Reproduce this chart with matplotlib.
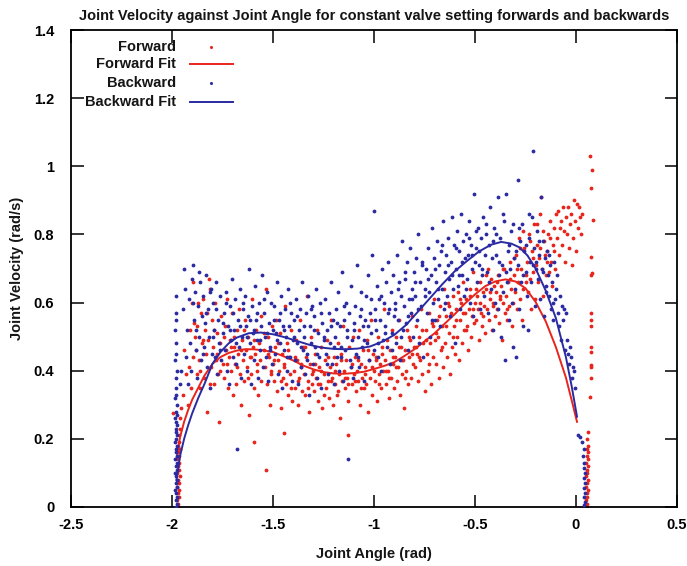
import numpy as np
import matplotlib
matplotlib.use("Agg")
import matplotlib.pyplot as plt

plt.rcParams['font.family'] = ['Liberation Sans', 'DejaVu Sans']

# ---------------- data ----------------
title = "Joint Velocity against Joint Angle for constant valve setting forwards and backwards"
x_label = "Joint Angle (rad)"
y_label = "Joint Velocity (rad/s)"
x_ticks = [-2.5, -2, -1.5, -1, -0.5, 0, 0.5]
x_tick_labels = ["-2.5", "-2", "-1.5", "-1", "-0.5", "0", "0.5"]
y_ticks = [0, 0.2, 0.4, 0.6, 0.8, 1, 1.2, 1.4]
y_tick_labels = ["0", "0.2", "0.4", "0.6", "0.8", "1", "1.2", "1.4"]

# Forward points: left column near the -2 rad stop
fwd_left_column = [(-1.972, 0.00), (-1.968, 0.01), (-1.975, 0.02), (-1.966, 0.03), (-1.971, 0.04),
                   (-1.964, 0.05), (-1.973, 0.06), (-1.967, 0.07), (-1.970, 0.08), (-1.962, 0.09),
                   (-1.974, 0.10), (-1.966, 0.11), (-1.969, 0.12), (-1.963, 0.13), (-1.972, 0.14),
                   (-1.965, 0.15), (-1.968, 0.16), (-1.961, 0.17), (-1.970, 0.18), (-1.964, 0.19),
                   (-1.967, 0.21), (-1.958, 0.23), (-1.962, 0.26), (-1.997, 0.275), (-1.955, 0.29)]
# Forward points: main cloud
fwd_cloud = [
    (-1.94, 0.46), (-1.93, 0.39), (-1.92, 0.30), (-1.915, 0.41), (-1.91, 0.52), (-1.905, 0.35), (-1.90, 0.60), (-1.945, 0.33),
    (-1.89, 0.54), (-1.885, 0.50), (-1.88, 0.46), (-1.875, 0.39), (-1.87, 0.60), (-1.865, 0.43), (-1.86, 0.35), (-1.855, 0.57), (-1.85, 0.48), (-1.895, 0.66),
    (-1.845, 0.61), (-1.84, 0.38), (-1.835, 0.52), (-1.83, 0.45), (-1.825, 0.28), (-1.82, 0.49), (-1.815, 0.67), (-1.81, 0.64), (-1.805, 0.41), (-1.80, 0.55),
    (-1.795, 0.47), (-1.79, 0.36), (-1.785, 0.60), (-1.78, 0.43), (-1.775, 0.51), (-1.77, 0.39), (-1.765, 0.25), (-1.76, 0.48), (-1.755, 0.56), (-1.75, 0.42),
    (-1.745, 0.38), (-1.74, 0.53), (-1.735, 0.46), (-1.73, 0.61), (-1.725, 0.35), (-1.72, 0.44), (-1.715, 0.49), (-1.71, 0.40), (-1.705, 0.57), (-1.70, 0.33),
    (-1.695, 0.47), (-1.69, 0.42), (-1.685, 0.36), (-1.68, 0.52), (-1.675, 0.45), (-1.67, 0.58), (-1.665, 0.39), (-1.66, 0.30), (-1.655, 0.49), (-1.65, 0.43),
    (-1.645, 0.37), (-1.64, 0.55), (-1.635, 0.46), (-1.63, 0.41), (-1.625, 0.50), (-1.62, 0.27), (-1.615, 0.44), (-1.61, 0.39), (-1.605, 0.61), (-1.60, 0.47),
    (-1.595, 0.35), (-1.59, 0.45), (-1.585, 0.52), (-1.58, 0.40), (-1.575, 0.33), (-1.57, 0.48), (-1.565, 0.43), (-1.56, 0.56), (-1.535, 0.11), (-1.596, 0.19),
    (-1.545, 0.46), (-1.54, 0.41), (-1.535, 0.64), (-1.53, 0.36), (-1.525, 0.50), (-1.52, 0.44), (-1.515, 0.30), (-1.51, 0.39), (-1.505, 0.53), (-1.50, 0.42),
    (-1.495, 0.37), (-1.49, 0.47), (-1.485, 0.55), (-1.48, 0.34), (-1.475, 0.43), (-1.47, 0.40), (-1.465, 0.51), (-1.46, 0.29), (-1.455, 0.45), (-1.45, 0.38),
    (-1.445, 0.42), (-1.44, 0.59), (-1.435, 0.36), (-1.43, 0.48), (-1.425, 0.33), (-1.42, 0.44), (-1.415, 0.39), (-1.41, 0.52), (-1.405, 0.31), (-1.444, 0.216),
    (-1.395, 0.40), (-1.39, 0.35), (-1.385, 0.49), (-1.38, 0.43), (-1.375, 0.30), (-1.37, 0.38), (-1.365, 0.55), (-1.36, 0.41), (-1.355, 0.34), (-1.35, 0.47),
    (-1.345, 0.39), (-1.34, 0.33), (-1.335, 0.44), (-1.33, 0.62), (-1.325, 0.37), (-1.32, 0.28), (-1.315, 0.42), (-1.31, 0.50), (-1.305, 0.36), (-1.30, 0.40),
    (-1.295, 0.34), (-1.29, 0.45), (-1.285, 0.38), (-1.28, 0.52), (-1.275, 0.31), (-1.27, 0.41), (-1.265, 0.36), (-1.26, 0.47), (-1.255, 0.29), (-1.25, 0.39),
    (-1.245, 0.43), (-1.24, 0.35), (-1.235, 0.49), (-1.23, 0.37), (-1.225, 0.32), (-1.22, 0.41), (-1.215, 0.55), (-1.21, 0.38), (-1.205, 0.30), (-1.20, 0.44),
    (-1.195, 0.36), (-1.19, 0.42), (-1.185, 0.33), (-1.18, 0.48), (-1.175, 0.39), (-1.17, 0.26), (-1.165, 0.45), (-1.16, 0.37), (-1.155, 0.53), (-1.15, 0.40),
    (-1.145, 0.35), (-1.14, 0.43), (-1.135, 0.38), (-1.13, 0.31), (-1.125, 0.47), (-1.13, 0.21), (-1.115, 0.41), (-1.11, 0.36), (-1.105, 0.50), (-1.10, 0.39),
    (-1.095, 0.44), (-1.09, 0.34), (-1.085, 0.40), (-1.08, 0.37), (-1.075, 0.52), (-1.07, 0.30), (-1.065, 0.42), (-1.06, 0.38), (-1.055, 0.46), (-1.05, 0.35),
    (-1.045, 0.41), (-1.04, 0.36), (-1.035, 0.49), (-1.03, 0.28), (-1.025, 0.43), (-1.02, 0.38), (-1.015, 0.55), (-1.01, 0.33), (-1.005, 0.45), (-1.00, 0.40),
    (-0.995, 0.37), (-0.99, 0.44), (-0.985, 0.31), (-0.98, 0.50), (-0.975, 0.39), (-0.97, 0.42), (-0.965, 0.35), (-0.96, 0.47), (-0.955, 0.40), (-0.95, 0.58),
    (-0.945, 0.43), (-0.94, 0.36), (-0.935, 0.49), (-0.93, 0.40), (-0.925, 0.32), (-0.92, 0.46), (-0.915, 0.38), (-0.91, 0.52), (-0.905, 0.42), (-0.90, 0.35),
    (-0.895, 0.44), (-0.89, 0.50), (-0.885, 0.37), (-0.88, 0.41), (-0.875, 0.55), (-0.87, 0.33), (-0.865, 0.47), (-0.86, 0.39), (-0.855, 0.43), (-0.85, 0.29),
    (-0.845, 0.46), (-0.84, 0.40), (-0.835, 0.52), (-0.83, 0.36), (-0.825, 0.44), (-0.82, 0.49), (-0.815, 0.38), (-0.81, 0.56), (-0.805, 0.42), (-0.80, 0.47),
    (-0.795, 0.41), (-0.79, 0.53), (-0.785, 0.45), (-0.78, 0.37), (-0.775, 0.50), (-0.77, 0.43), (-0.765, 0.58), (-0.76, 0.39), (-0.755, 0.48), (-0.75, 0.34),
    (-0.745, 0.52), (-0.74, 0.45), (-0.735, 0.40), (-0.73, 0.57), (-0.725, 0.48), (-0.72, 0.36), (-0.715, 0.54), (-0.71, 0.44), (-0.705, 0.61), (-0.70, 0.49),
    (-0.695, 0.42), (-0.69, 0.55), (-0.685, 0.50), (-0.68, 0.38), (-0.675, 0.59), (-0.67, 0.46), (-0.665, 0.53), (-0.66, 0.41), (-0.655, 0.64), (-0.65, 0.48),
    (-0.645, 0.56), (-0.64, 0.44), (-0.635, 0.60), (-0.63, 0.51), (-0.625, 0.39), (-0.62, 0.57), (-0.615, 0.47), (-0.61, 0.62), (-0.605, 0.53), (-0.60, 0.45),
    (-0.595, 0.58), (-0.59, 0.50), (-0.585, 0.63), (-0.58, 0.43), (-0.575, 0.55), (-0.57, 0.60), (-0.565, 0.48), (-0.56, 0.66), (-0.555, 0.52), (-0.55, 0.57),
    (-0.545, 0.61), (-0.54, 0.53), (-0.535, 0.46), (-0.53, 0.58), (-0.525, 0.64), (-0.52, 0.50), (-0.515, 0.56), (-0.51, 0.69), (-0.505, 0.54), (-0.50, 0.60),
    (-0.495, 0.55), (-0.49, 0.62), (-0.485, 0.58), (-0.48, 0.49), (-0.475, 0.66), (-0.47, 0.57), (-0.465, 0.53), (-0.46, 0.63), (-0.455, 0.59), (-0.45, 0.51),
    (-0.445, 0.64), (-0.44, 0.58), (-0.435, 0.70), (-0.43, 0.55), (-0.425, 0.61), (-0.42, 0.67), (-0.415, 0.52), (-0.41, 0.60), (-0.405, 0.65), (-0.40, 0.56),
    (-0.395, 0.63), (-0.39, 0.58), (-0.385, 0.68), (-0.38, 0.54), (-0.375, 0.61), (-0.37, 0.65), (-0.365, 0.49), (-0.36, 0.60), (-0.355, 0.70), (-0.35, 0.57),
    (-0.345, 0.62), (-0.34, 0.55), (-0.335, 0.66), (-0.33, 0.59), (-0.325, 0.72), (-0.32, 0.64), (-0.315, 0.53), (-0.31, 0.60), (-0.305, 0.68), (-0.30, 0.63),
    (-0.295, 0.74), (-0.29, 0.58), (-0.285, 0.66), (-0.28, 0.79), (-0.275, 0.61), (-0.27, 0.70), (-0.265, 0.55), (-0.26, 0.64), (-0.255, 0.76), (-0.25, 0.68),
    (-0.245, 0.72), (-0.24, 0.63), (-0.235, 0.80), (-0.23, 0.67), (-0.225, 0.58), (-0.22, 0.75), (-0.215, 0.69), (-0.21, 0.83), (-0.205, 0.61), (-0.20, 0.71),
    (-0.195, 0.77), (-0.19, 0.66), (-0.185, 0.73), (-0.18, 0.86), (-0.175, 0.91), (-0.17, 0.70), (-0.165, 0.62), (-0.16, 0.78), (-0.155, 0.74), (-0.15, 0.68),
    (-0.145, 0.75), (-0.14, 0.80), (-0.135, 0.69), (-0.13, 0.84), (-0.125, 0.72), (-0.12, 0.65), (-0.115, 0.77), (-0.11, 0.82), (-0.105, 0.70), (-0.10, 0.86),
    (-0.095, 0.79), (-0.09, 0.87), (-0.085, 0.74), (-0.08, 0.82), (-0.075, 0.84), (-0.07, 0.77), (-0.065, 0.88), (-0.06, 0.81), (-0.055, 0.72), (-0.05, 0.85),
    (-0.045, 0.80), (-0.04, 0.88), (-0.035, 0.76), (-0.03, 0.83), (-0.025, 0.86), (-0.02, 0.71), (-0.015, 0.79), (-0.01, 0.90), (-0.005, 0.84), (0.00, 0.75),
    (0.005, 0.89), (0.01, 0.82), (0.015, 0.88), (0.02, 0.85), (0.025, 0.80), (0.03, 0.86),
]
# Forward points: second pass through the dense band
fwd_band = [
    (-1.895, 0.44), (-1.878, 0.53), (-1.862, 0.40), (-1.846, 0.49), (-1.828, 0.57), (-1.812, 0.36),
    (-1.792, 0.52), (-1.778, 0.45), (-1.761, 0.40), (-1.744, 0.50), (-1.727, 0.42), (-1.708, 0.47),
    (-1.692, 0.50), (-1.676, 0.41), (-1.659, 0.46), (-1.642, 0.52), (-1.626, 0.38), (-1.607, 0.44),
    (-1.592, 0.49), (-1.577, 0.42), (-1.561, 0.37), (-1.543, 0.51), (-1.527, 0.45), (-1.508, 0.40),
    (-1.493, 0.43), (-1.477, 0.48), (-1.462, 0.37), (-1.446, 0.41), (-1.428, 0.46), (-1.411, 0.35),
    (-1.392, 0.44), (-1.377, 0.37), (-1.361, 0.42), (-1.343, 0.47), (-1.327, 0.35), (-1.308, 0.39),
    (-1.293, 0.42), (-1.277, 0.36), (-1.262, 0.40), (-1.246, 0.33), (-1.228, 0.44), (-1.211, 0.37),
    (-1.192, 0.40), (-1.176, 0.34), (-1.161, 0.43), (-1.143, 0.38), (-1.127, 0.36), (-1.108, 0.42),
    (-1.093, 0.37), (-1.077, 0.43), (-1.062, 0.35), (-1.046, 0.39), (-1.028, 0.46), (-1.011, 0.41),
    (-0.992, 0.43), (-0.976, 0.36), (-0.961, 0.45), (-0.943, 0.40), (-0.927, 0.38), (-0.908, 0.44),
    (-0.893, 0.41), (-0.877, 0.47), (-0.862, 0.43), (-0.846, 0.38), (-0.828, 0.50), (-0.811, 0.45),
    (-0.792, 0.47), (-0.776, 0.44), (-0.761, 0.52), (-0.743, 0.49), (-0.727, 0.42), (-0.708, 0.53),
    (-0.693, 0.51), (-0.677, 0.56), (-0.662, 0.47), (-0.646, 0.53), (-0.628, 0.59), (-0.611, 0.50),
    (-0.592, 0.55), (-0.576, 0.61), (-0.561, 0.57), (-0.543, 0.52), (-0.527, 0.62), (-0.508, 0.58),
    (-0.493, 0.64), (-0.477, 0.60), (-0.462, 0.56), (-0.446, 0.68), (-0.428, 0.63), (-0.411, 0.59),
    (-0.392, 0.66), (-0.377, 0.62), (-0.361, 0.70), (-0.343, 0.58), (-0.327, 0.67), (-0.308, 0.73),
    (-0.293, 0.70), (-0.277, 0.76), (-0.262, 0.81), (-0.246, 0.66), (-0.228, 0.78), (-0.211, 0.73),
    (-0.193, 0.83), (-0.177, 0.76), (-0.162, 0.81), (-0.143, 0.72), (-0.127, 0.79), (-0.108, 0.75),
]
# Forward points: right column near the 0.05 rad stop
fwd_right_column = [(0.070, 1.03), (0.078, 0.99), (0.072, 0.935), (0.082, 0.842), (0.075, 0.735),
                    (0.078, 0.686), (0.074, 0.68), (0.075, 0.568), (0.076, 0.549), (0.073, 0.53),
                    (0.073, 0.47), (0.074, 0.455), (0.075, 0.416), (0.076, 0.41), (0.073, 0.38),
                    (0.070, 0.324), (0.060, 0.22), (0.055, 0.20), (0.058, 0.18), (0.052, 0.17),
                    (0.060, 0.16), (0.054, 0.15), (0.057, 0.14), (0.050, 0.13), (0.059, 0.12),
                    (0.053, 0.11), (0.056, 0.10), (0.051, 0.09), (0.058, 0.08), (0.054, 0.07),
                    (0.050, 0.06), (0.057, 0.05), (0.053, 0.04), (0.055, 0.03), (0.051, 0.02),
                    (0.056, 0.01), (0.053, 0.00)]

# Backward points: left column
bwd_left_column = [(-1.980, 0.00), (-1.976, 0.01), (-1.982, 0.02), (-1.974, 0.03), (-1.979, 0.04),
                   (-1.985, 0.05), (-1.977, 0.06), (-1.981, 0.07), (-1.973, 0.08), (-1.978, 0.09),
                   (-1.984, 0.10), (-1.975, 0.11), (-1.980, 0.12), (-1.977, 0.13), (-1.983, 0.14),
                   (-1.974, 0.15), (-1.979, 0.16), (-1.981, 0.17), (-1.976, 0.18), (-1.984, 0.19),
                   (-1.978, 0.20), (-1.973, 0.21), (-1.980, 0.22), (-1.982, 0.23), (-1.976, 0.24),
                   (-1.979, 0.25), (-1.985, 0.26), (-1.977, 0.27), (-1.981, 0.28), (-1.975, 0.30),
                   (-1.983, 0.32), (-1.978, 0.33), (-1.980, 0.35), (-1.982, 0.38), (-1.976, 0.40),
                   (-1.984, 0.43), (-1.979, 0.45), (-1.981, 0.48), (-1.983, 0.52), (-1.978, 0.55),
                   (-1.980, 0.57), (-1.982, 0.62), (-1.960, 0.36), (-1.955, 0.40)]
# Backward points: main cloud
bwd_cloud = [
    (-1.945, 0.58), (-1.94, 0.70), (-1.935, 0.64), (-1.93, 0.44), (-1.925, 0.52), (-1.92, 0.36), (-1.915, 0.61), (-1.91, 0.48), (-1.905, 0.40), (-1.90, 0.67),
    (-1.895, 0.71), (-1.89, 0.55), (-1.885, 0.63), (-1.88, 0.46), (-1.875, 0.38), (-1.87, 0.59), (-1.865, 0.50), (-1.86, 0.66), (-1.855, 0.43), (-1.85, 0.56),
    (-1.845, 0.62), (-1.84, 0.47), (-1.835, 0.54), (-1.83, 0.68), (-1.825, 0.41), (-1.82, 0.58), (-1.815, 0.50), (-1.81, 0.35), (-1.805, 0.64), (-1.80, 0.45),
    (-1.795, 0.60), (-1.79, 0.52), (-1.785, 0.44), (-1.78, 0.66), (-1.775, 0.39), (-1.77, 0.55), (-1.765, 0.48), (-1.76, 0.62), (-1.755, 0.43), (-1.75, 0.51),
    (-1.745, 0.57), (-1.74, 0.46), (-1.735, 0.63), (-1.73, 0.40), (-1.725, 0.53), (-1.72, 0.36), (-1.715, 0.59), (-1.71, 0.49), (-1.705, 0.67), (-1.70, 0.44),
    (-1.695, 0.52), (-1.69, 0.61), (-1.685, 0.42), (-1.678, 0.17), (-1.675, 0.55), (-1.67, 0.47), (-1.665, 0.64), (-1.66, 0.38), (-1.655, 0.50), (-1.65, 0.58),
    (-1.645, 0.45), (-1.64, 0.62), (-1.635, 0.53), (-1.63, 0.40), (-1.625, 0.56), (-1.62, 0.70), (-1.615, 0.48), (-1.61, 0.36), (-1.605, 0.59), (-1.60, 0.51),
    (-1.595, 0.43), (-1.59, 0.65), (-1.585, 0.55), (-1.58, 0.49), (-1.575, 0.38), (-1.57, 0.60), (-1.565, 0.46), (-1.56, 0.53), (-1.555, 0.68), (-1.55, 0.41),
    (-1.545, 0.57), (-1.54, 0.50), (-1.535, 0.44), (-1.53, 0.63), (-1.525, 0.37), (-1.52, 0.54), (-1.515, 0.47), (-1.51, 0.60), (-1.505, 0.42), (-1.50, 0.52),
    (-1.495, 0.59), (-1.49, 0.45), (-1.485, 0.51), (-1.48, 0.66), (-1.475, 0.39), (-1.47, 0.55), (-1.465, 0.48), (-1.46, 0.62), (-1.455, 0.35), (-1.45, 0.53),
    (-1.445, 0.46), (-1.44, 0.58), (-1.435, 0.50), (-1.43, 0.40), (-1.425, 0.64), (-1.42, 0.53), (-1.415, 0.44), (-1.41, 0.57), (-1.405, 0.37), (-1.40, 0.49),
    (-1.395, 0.55), (-1.39, 0.43), (-1.385, 0.61), (-1.38, 0.48), (-1.375, 0.36), (-1.37, 0.52), (-1.365, 0.58), (-1.36, 0.41), (-1.355, 0.66), (-1.35, 0.46),
    (-1.345, 0.50), (-1.34, 0.39), (-1.335, 0.57), (-1.33, 0.45), (-1.325, 0.62), (-1.32, 0.33), (-1.315, 0.53), (-1.31, 0.48), (-1.305, 0.59), (-1.30, 0.42),
    (-1.295, 0.56), (-1.29, 0.47), (-1.285, 0.64), (-1.28, 0.38), (-1.275, 0.51), (-1.27, 0.44), (-1.265, 0.60), (-1.26, 0.35), (-1.255, 0.54), (-1.25, 0.49),
    (-1.245, 0.61), (-1.24, 0.45), (-1.235, 0.52), (-1.23, 0.39), (-1.225, 0.57), (-1.22, 0.48), (-1.215, 0.66), (-1.21, 0.42), (-1.205, 0.55), (-1.20, 0.36),
    (-1.195, 0.50), (-1.19, 0.58), (-1.185, 0.44), (-1.18, 0.63), (-1.175, 0.40), (-1.17, 0.53), (-1.165, 0.47), (-1.16, 0.69), (-1.155, 0.37), (-1.15, 0.55),
    (-1.145, 0.46), (-1.14, 0.60), (-1.135, 0.52), (-1.13, 0.14), (-1.125, 0.57), (-1.12, 0.43), (-1.115, 0.65), (-1.11, 0.49), (-1.105, 0.38), (-1.10, 0.54),
    (-1.095, 0.59), (-1.09, 0.45), (-1.085, 0.71), (-1.08, 0.50), (-1.075, 0.41), (-1.07, 0.56), (-1.065, 0.63), (-1.06, 0.47), (-1.055, 0.53), (-1.05, 0.37),
    (-1.045, 0.55), (-1.04, 0.62), (-1.035, 0.48), (-1.03, 0.68), (-1.025, 0.43), (-1.02, 0.57), (-1.015, 0.51), (-1.01, 0.74), (-1.00, 0.87), (-1.00, 0.46),
    (-0.995, 0.58), (-0.99, 0.52), (-0.985, 0.65), (-0.98, 0.44), (-0.975, 0.61), (-0.97, 0.55), (-0.965, 0.40), (-0.96, 0.70), (-0.955, 0.49), (-0.95, 0.60),
    (-0.945, 0.53), (-0.94, 0.66), (-0.935, 0.47), (-0.93, 0.72), (-0.925, 0.58), (-0.92, 0.42), (-0.915, 0.63), (-0.91, 0.51), (-0.905, 0.68), (-0.90, 0.56),
    (-0.895, 0.60), (-0.89, 0.48), (-0.885, 0.74), (-0.88, 0.55), (-0.875, 0.66), (-0.87, 0.43), (-0.865, 0.62), (-0.86, 0.78), (-0.855, 0.52), (-0.85, 0.59),
    (-0.845, 0.67), (-0.84, 0.54), (-0.835, 0.72), (-0.83, 0.46), (-0.825, 0.61), (-0.82, 0.76), (-0.815, 0.57), (-0.81, 0.64), (-0.805, 0.50), (-0.80, 0.69),
    (-0.795, 0.62), (-0.79, 0.73), (-0.785, 0.55), (-0.78, 0.80), (-0.775, 0.48), (-0.77, 0.66), (-0.765, 0.59), (-0.76, 0.71), (-0.755, 0.44), (-0.75, 0.64),
    (-0.745, 0.70), (-0.74, 0.57), (-0.735, 0.76), (-0.73, 0.63), (-0.725, 0.50), (-0.72, 0.68), (-0.715, 0.82), (-0.71, 0.60), (-0.705, 0.73), (-0.70, 0.55),
    (-0.695, 0.66), (-0.69, 0.78), (-0.685, 0.61), (-0.68, 0.71), (-0.675, 0.53), (-0.67, 0.75), (-0.665, 0.64), (-0.66, 0.84), (-0.655, 0.58), (-0.65, 0.69),
    (-0.645, 0.74), (-0.64, 0.62), (-0.635, 0.79), (-0.63, 0.67), (-0.625, 0.56), (-0.62, 0.72), (-0.615, 0.85), (-0.61, 0.64), (-0.605, 0.77), (-0.60, 0.48),
    (-0.595, 0.70), (-0.59, 0.81), (-0.585, 0.65), (-0.58, 0.75), (-0.575, 0.58), (-0.57, 0.86), (-0.565, 0.68), (-0.56, 0.78), (-0.555, 0.62), (-0.55, 0.73),
    (-0.545, 0.80), (-0.54, 0.67), (-0.535, 0.74), (-0.53, 0.84), (-0.525, 0.60), (-0.52, 0.77), (-0.515, 0.70), (-0.51, 0.56), (-0.503, 0.92), (-0.50, 0.72),
    (-0.495, 0.76), (-0.49, 0.66), (-0.485, 0.82), (-0.48, 0.71), (-0.475, 0.58), (-0.47, 0.79), (-0.465, 0.68), (-0.46, 0.85), (-0.455, 0.62), (-0.45, 0.74),
    (-0.445, 0.80), (-0.44, 0.69), (-0.435, 0.57), (-0.43, 0.77), (-0.425, 0.88), (-0.42, 0.64), (-0.415, 0.73), (-0.41, 0.52), (-0.405, 0.82), (-0.40, 0.60),
    (-0.395, 0.74), (-0.388, 0.91), (-0.385, 0.58), (-0.38, 0.68), (-0.375, 0.79), (-0.37, 0.50), (-0.365, 0.71), (-0.36, 0.63), (-0.355, 0.84), (-0.35, 0.43),
    (-0.347, 0.92), (-0.34, 0.66), (-0.335, 0.75), (-0.33, 0.55), (-0.325, 0.70), (-0.32, 0.81), (-0.315, 0.60), (-0.31, 0.47), (-0.305, 0.73), (-0.30, 0.64),
    (-0.297, 0.44), (-0.289, 0.96), (-0.285, 0.71), (-0.28, 0.58), (-0.275, 0.78), (-0.27, 0.66), (-0.265, 0.83), (-0.26, 0.53), (-0.255, 0.75), (-0.25, 0.69),
    (-0.245, 0.62), (-0.24, 0.52), (-0.235, 0.79), (-0.23, 0.72), (-0.225, 0.66), (-0.22, 0.85), (-0.214, 1.045), (-0.21, 0.76), (-0.205, 0.59), (-0.20, 0.70),
    (-0.195, 0.81), (-0.19, 0.67), (-0.185, 0.74), (-0.18, 0.61), (-0.173, 0.91), (-0.17, 0.70), (-0.165, 0.78), (-0.16, 0.56), (-0.155, 0.73), (-0.15, 0.65),
    (-0.145, 0.75), (-0.14, 0.68), (-0.135, 0.62), (-0.13, 0.71), (-0.125, 0.58), (-0.12, 0.66), (-0.115, 0.55), (-0.11, 0.72), (-0.105, 0.61), (-0.10, 0.64),
    (-0.095, 0.68), (-0.09, 0.57), (-0.085, 0.53), (-0.08, 0.62), (-0.075, 0.49), (-0.07, 0.59), (-0.065, 0.55), (-0.06, 0.58), (-0.055, 0.46), (-0.05, 0.57),
    (-0.045, 0.49), (-0.04, 0.45), (-0.035, 0.42), (-0.03, 0.47), (-0.025, 0.44), (-0.02, 0.38), (-0.015, 0.41), (-0.01, 0.40), (-0.005, 0.35),
]
# Backward points: second pass through the dense band
bwd_band = [
    (-1.897, 0.60), (-1.881, 0.52), (-1.864, 0.69), (-1.848, 0.45), (-1.831, 0.57), (-1.814, 0.63),
    (-1.796, 0.50), (-1.781, 0.58), (-1.763, 0.46), (-1.747, 0.54), (-1.732, 0.60), (-1.713, 0.52),
    (-1.697, 0.57), (-1.681, 0.48), (-1.664, 0.53), (-1.648, 0.60), (-1.631, 0.50), (-1.614, 0.55),
    (-1.596, 0.52), (-1.581, 0.57), (-1.563, 0.49), (-1.547, 0.61), (-1.532, 0.51), (-1.513, 0.46),
    (-1.497, 0.55), (-1.481, 0.49), (-1.464, 0.57), (-1.448, 0.52), (-1.431, 0.44), (-1.414, 0.60),
    (-1.396, 0.50), (-1.381, 0.56), (-1.363, 0.47), (-1.347, 0.53), (-1.332, 0.43), (-1.313, 0.58),
    (-1.297, 0.52), (-1.281, 0.45), (-1.264, 0.57), (-1.248, 0.50), (-1.231, 0.42), (-1.214, 0.53),
    (-1.196, 0.47), (-1.181, 0.54), (-1.163, 0.44), (-1.147, 0.59), (-1.132, 0.50), (-1.113, 0.41),
    (-1.097, 0.52), (-1.081, 0.44), (-1.064, 0.58), (-1.048, 0.49), (-1.031, 0.53), (-1.014, 0.61),
    (-0.996, 0.55), (-0.981, 0.48), (-0.963, 0.62), (-0.947, 0.51), (-0.932, 0.57), (-0.913, 0.46),
    (-0.897, 0.58), (-0.881, 0.64), (-0.864, 0.50), (-0.848, 0.69), (-0.831, 0.56), (-0.814, 0.61),
    (-0.796, 0.66), (-0.781, 0.58), (-0.763, 0.72), (-0.747, 0.62), (-0.732, 0.67), (-0.713, 0.55),
    (-0.697, 0.70), (-0.681, 0.64), (-0.664, 0.77), (-0.648, 0.60), (-0.632, 0.71), (-0.613, 0.68),
    (-0.596, 0.76), (-0.581, 0.68), (-0.563, 0.72), (-0.547, 0.64), (-0.532, 0.79), (-0.513, 0.74),
    (-0.497, 0.81), (-0.481, 0.75), (-0.464, 0.70), (-0.448, 0.83), (-0.432, 0.66), (-0.413, 0.78),
    (-0.396, 0.80), (-0.381, 0.72), (-0.363, 0.86), (-0.347, 0.69), (-0.332, 0.77), (-0.313, 0.83),
    (-0.297, 0.75), (-0.281, 0.82), (-0.263, 0.68), (-0.247, 0.77), (-0.232, 0.86), (-0.213, 0.71),
    (-0.196, 0.72), (-0.181, 0.78), (-0.163, 0.69), (-0.147, 0.63), (-0.132, 0.74), (-0.113, 0.60),
]
# Backward points: right column
bwd_right_column = [(0.011, 0.211), (0.020, 0.205), (0.030, 0.19), (0.040, 0.17), (0.035, 0.15),
                    (0.042, 0.13), (0.038, 0.115), (0.045, 0.10), (0.040, 0.085), (0.043, 0.07),
                    (0.038, 0.055), (0.046, 0.04), (0.041, 0.03), (0.044, 0.015), (0.040, 0.005)]

# Fitted curves
fwd_fit_x = [-1.978, -1.96, -1.94, -1.92, -1.90, -1.87, -1.84, -1.80, -1.76, -1.72, -1.68, -1.64,
             -1.60, -1.55, -1.50, -1.45, -1.40, -1.35, -1.30, -1.25, -1.20, -1.15, -1.10, -1.05,
             -1.00, -0.95, -0.90, -0.85, -0.80, -0.75, -0.70, -0.65, -0.60, -0.55, -0.50, -0.45,
             -0.40, -0.35, -0.30, -0.25, -0.20, -0.15, -0.10, -0.05, -0.02, 0.005]
fwd_fit_y = [0.14, 0.205, 0.25, 0.285, 0.315, 0.35, 0.385, 0.42, 0.44, 0.452, 0.459, 0.463,
             0.463, 0.46, 0.455, 0.443, 0.43, 0.415, 0.404, 0.396, 0.392, 0.391, 0.393, 0.397,
             0.405, 0.414, 0.425, 0.443, 0.463, 0.486, 0.51, 0.538, 0.566, 0.597, 0.624, 0.648,
             0.662, 0.668, 0.662, 0.642, 0.602, 0.545, 0.47, 0.38, 0.31, 0.25]
bwd_fit_x = [-1.978, -1.96, -1.94, -1.92, -1.90, -1.87, -1.84, -1.80, -1.76, -1.72, -1.68, -1.62,
             -1.56, -1.50, -1.44, -1.38, -1.32, -1.26, -1.20, -1.14, -1.08, -1.02, -0.96, -0.90,
             -0.84, -0.78, -0.72, -0.66, -0.60, -0.54, -0.48, -0.42, -0.37, -0.32, -0.28, -0.24,
             -0.20, -0.15, -0.10, -0.05, -0.02, 0.005]
bwd_fit_y = [0.08, 0.15, 0.20, 0.24, 0.275, 0.32, 0.36, 0.42, 0.455, 0.48, 0.497, 0.51,
             0.512, 0.507, 0.498, 0.487, 0.476, 0.468, 0.464, 0.463, 0.465, 0.471, 0.485, 0.505,
             0.535, 0.575, 0.615, 0.655, 0.692, 0.722, 0.75, 0.77, 0.778, 0.773, 0.762, 0.738,
             0.70, 0.635, 0.555, 0.44, 0.35, 0.265]

legend_labels = ["Forward", "Forward Fit", "Backward", "Backward Fit"]

# ---------------- styling ----------------
RED = "#e8251c"
BLUE = "#2a2aa2"
FS = 10.5
FW = "bold"
TXT = "#151515"

fig = plt.figure(figsize=(6.87, 5.66), dpi=100)
ax = fig.add_axes([71 / 687, 1 - 507 / 566, 606 / 687, 477 / 566])

fwd_pts = np.array(fwd_left_column + fwd_cloud + fwd_band + fwd_right_column)
bwd_pts = np.array(bwd_left_column + bwd_cloud + bwd_band + bwd_right_column)

ax.scatter(fwd_pts[:, 0], fwd_pts[:, 1], s=7.5, c=RED, linewidths=0, zorder=2)
ax.plot(fwd_fit_x, fwd_fit_y, color=RED, lw=1.4, zorder=3)
ax.scatter(bwd_pts[:, 0], bwd_pts[:, 1], s=7.5, c=BLUE, linewidths=0, zorder=4)
ax.plot(bwd_fit_x, bwd_fit_y, color=BLUE, lw=1.4, zorder=5)

ax.set_xlim(-2.5, 0.5)
ax.set_ylim(0, 1.4)
ax.set_xticks(x_ticks)
ax.set_xticklabels(x_tick_labels, fontweight=FW, color=TXT)
ax.set_yticks(y_ticks)
ax.set_yticklabels(y_tick_labels, fontweight=FW, color=TXT)
ax.tick_params(direction="in", length=9, width=1.1, top=True, right=True,
               labelsize=FS, colors="black")
ax.tick_params(axis="x", pad=8)
ax.tick_params(axis="y", pad=12)
for s in ax.spines.values():
    s.set_linewidth(1.3)

ax.set_title(title, fontsize=FS, fontweight=FW, color=TXT, pad=7)
ax.set_xlabel(x_label, fontsize=FS, fontweight=FW, color=TXT, labelpad=11)
ax.set_ylabel(y_label, fontsize=FS, fontweight=FW, color=TXT, labelpad=7)

# gnuplot-style legend: right-aligned labels followed by samples
leg_text_x = 0.173
leg_line_x = [0.196, 0.267]
leg_dot_x = 0.2315
leg_rows = [0.9654, 0.9277, 0.8889, 0.85]
leg_colors = [RED, RED, BLUE, BLUE]
leg_is_line = [False, True, False, True]
for lab, yy, col, is_line in zip(legend_labels, leg_rows, leg_colors, leg_is_line):
    ax.text(leg_text_x, yy, lab, transform=ax.transAxes, ha="right", va="center",
            fontsize=FS, fontweight=FW, color=TXT)
    if is_line:
        ax.plot(leg_line_x, [yy, yy], transform=ax.transAxes, color=col, lw=1.4)
    else:
        ax.plot([leg_dot_x], [yy], transform=ax.transAxes, ls="none", marker="o",
                ms=2.2, mfc=col, mec="none")

fig.savefig("out.png", dpi=100)
